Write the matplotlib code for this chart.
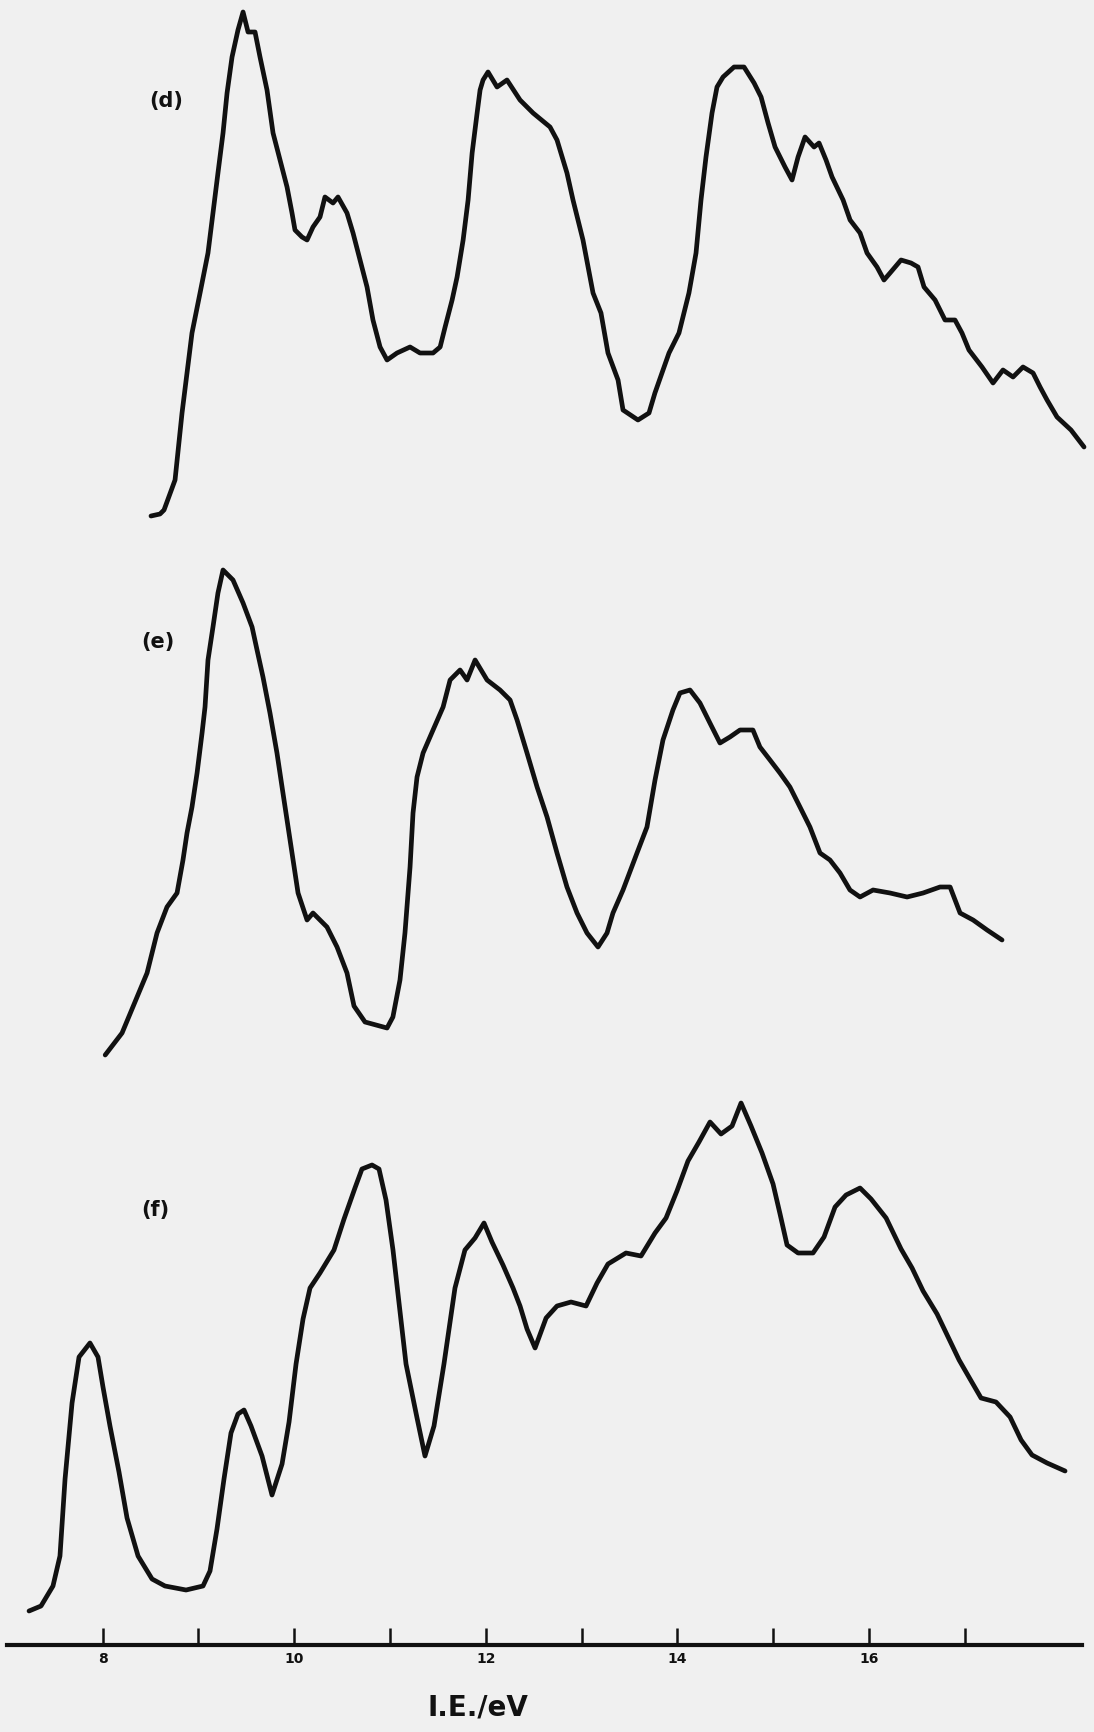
import matplotlib
matplotlib.use("Agg")
import matplotlib.pyplot as plt

# Spectre (d) : énergie (eV) et intensité (unités arbitraires)
ev_d = [8.505, 8.599, 8.641, 8.756, 8.829, 8.881, 8.933, 9.017, 9.100, 9.152,
        9.204, 9.257, 9.299, 9.351, 9.413, 9.466, 9.518, 9.591, 9.643, 9.716,
        9.779, 9.852, 9.925, 9.977, 10.008, 10.081, 10.134, 10.196, 10.269, 10.321,
        10.405, 10.457, 10.551, 10.614, 10.687, 10.760, 10.822, 10.896, 10.969, 11.073,
        11.209, 11.313, 11.449, 11.523, 11.575, 11.648, 11.700, 11.763, 11.815, 11.857,
        11.909, 11.940, 11.971, 12.023, 12.117, 12.221, 12.357, 12.493, 12.670, 12.743,
        12.847, 12.910, 13.014, 13.119, 13.202, 13.275, 13.380, 13.432, 13.588, 13.703,
        13.765, 13.912, 14.016, 14.120, 14.194, 14.246, 14.298, 14.361, 14.413, 14.476,
        14.591, 14.695, 14.800, 14.873, 14.946, 15.019, 15.123, 15.196, 15.259, 15.332,
        15.426, 15.478, 15.551, 15.614, 15.729, 15.802, 15.906, 15.979, 16.083, 16.156,
        16.219, 16.334, 16.438, 16.511, 16.574, 16.689, 16.793, 16.897, 16.970, 17.043,
        17.179, 17.294, 17.398, 17.503, 17.607, 17.712, 17.785, 17.858, 17.962, 18.108,
        18.244]
int_d = [0.9, 1.1, 1.5, 4.5, 11.2, 15.2, 19.2, 23.2, 27.2, 31.2,
         35.2, 39.2, 43.2, 46.8, 49.5, 51.3, 49.3, 49.3, 46.8, 43.5,
         39.2, 36.5, 33.8, 31.2, 29.5, 28.8, 28.5, 29.8, 30.8, 32.8,
         32.2, 32.8, 31.2, 29.2, 26.5, 23.8, 20.5, 17.8, 16.5, 17.2,
         17.8, 17.2, 17.2, 17.8, 19.8, 22.5, 24.8, 28.5, 32.5, 37.2,
         41.2, 43.5, 44.5, 45.3, 43.8, 44.5, 42.5, 41.2, 39.8, 38.5,
         35.2, 32.5, 28.5, 23.2, 21.2, 17.2, 14.5, 11.5, 10.5, 11.2,
         13.2, 17.2, 19.2, 23.2, 27.2, 32.5, 36.8, 41.2, 43.8, 44.8,
         45.8, 45.8, 44.2, 42.8, 40.2, 37.8, 35.8, 34.5, 36.8, 38.8,
         37.8, 38.2, 36.5, 34.8, 32.5, 30.5, 29.2, 27.2, 25.8, 24.5,
         25.2, 26.5, 26.2, 25.8, 23.8, 22.5, 20.5, 20.5, 19.2, 17.5,
         15.8, 14.2, 15.5, 14.8, 15.8, 15.2, 13.8, 12.5, 10.8, 9.5,
         7.8]

# Spectre (e)
ev_e = [8.027, 8.203, 8.464, 8.568, 8.672, 8.777, 8.839, 8.881, 8.933, 8.986,
        9.038, 9.069, 9.100, 9.152, 9.204, 9.257, 9.361, 9.466, 9.560, 9.612,
        9.674, 9.747, 9.820, 9.873, 9.925, 9.977, 10.040, 10.134, 10.196, 10.342,
        10.447, 10.551, 10.624, 10.739, 10.969, 11.030, 11.104, 11.156, 11.209, 11.240,
        11.282, 11.345, 11.449, 11.554, 11.627, 11.731, 11.804, 11.888, 12.013, 12.148,
        12.253, 12.326, 12.430, 12.535, 12.639, 12.743, 12.847, 12.952, 13.056, 13.171,
        13.265, 13.327, 13.432, 13.578, 13.682, 13.766, 13.849, 13.953, 14.026, 14.131,
        14.235, 14.339, 14.444, 14.548, 14.653, 14.788, 14.861, 14.966, 15.070, 15.174,
        15.279, 15.383, 15.488, 15.592, 15.697, 15.801, 15.906, 16.042, 16.219, 16.397,
        16.564, 16.741, 16.846, 16.950, 17.086, 17.232, 17.388]
int_e = [1.0, 3.2, 9.2, 13.2, 15.8, 17.2, 20.5, 23.2, 25.8, 29.2,
         33.2, 35.8, 40.5, 43.8, 47.2, 49.5, 48.5, 46.2, 43.8, 41.5,
         38.8, 35.2, 31.2, 27.8, 24.5, 21.2, 17.2, 14.5, 15.2, 13.8,
         11.8, 9.2, 5.9, 4.3, 3.7, 4.8, 8.5, 13.2, 19.8, 25.2,
         28.8, 31.2, 33.5, 35.8, 38.5, 39.5, 38.5, 40.5, 38.5, 37.5,
         36.5, 34.5, 31.2, 27.8, 24.8, 21.2, 17.8, 15.2, 13.2, 11.8,
         13.2, 15.2, 17.5, 21.2, 23.8, 28.5, 32.5, 35.5, 37.2, 37.5,
         36.2, 34.2, 32.2, 32.8, 33.5, 33.5, 31.8, 30.5, 29.2, 27.8,
         25.8, 23.8, 21.2, 20.5, 19.2, 17.5, 16.8, 17.5, 17.2, 16.8,
         17.2, 17.8, 17.8, 15.2, 14.5, 13.5, 12.5]

# Spectre (f)
ev_f = [7.232, 7.357, 7.482, 7.555, 7.608, 7.681, 7.754, 7.868, 7.952, 8.004,
        8.077, 8.171, 8.255, 8.370, 8.516, 8.651, 8.871, 9.048, 9.121, 9.194,
        9.267, 9.340, 9.413, 9.476, 9.549, 9.664, 9.768, 9.873, 9.946, 10.019,
        10.092, 10.165, 10.269, 10.415, 10.520, 10.634, 10.707, 10.812, 10.885, 10.958,
        11.031, 11.094, 11.167, 11.282, 11.365, 11.459, 11.563, 11.678, 11.782, 11.887,
        11.981, 12.064, 12.179, 12.284, 12.357, 12.430, 12.514, 12.629, 12.743, 12.889,
        13.046, 13.161, 13.275, 13.463, 13.620, 13.766, 13.881, 13.995, 14.110, 14.225,
        14.340, 14.455, 14.570, 14.664, 14.768, 14.883, 14.998, 15.071, 15.144, 15.259,
        15.415, 15.530, 15.645, 15.760, 15.906, 16.021, 16.178, 16.334, 16.449, 16.564,
        16.710, 16.825, 16.940, 17.054, 17.169, 17.325, 17.472, 17.587, 17.701, 17.858,
        18.046]
int_f = [0.4, 0.9, 2.9, 5.9, 13.6, 21.2, 25.8, 27.2, 25.8, 22.8,
         18.9, 14.3, 9.7, 5.9, 3.6, 2.9, 2.5, 2.9, 4.4, 8.6,
         13.6, 18.2, 20.1, 20.5, 18.9, 15.9, 12.0, 15.1, 19.3, 25.1,
         29.6, 32.7, 34.2, 36.5, 39.6, 42.7, 44.6, 45.0, 44.6, 41.5,
         36.5, 31.2, 25.1, 19.7, 15.9, 18.9, 25.1, 32.7, 36.5, 37.7,
         39.2, 37.3, 35.0, 32.7, 30.9, 28.6, 26.7, 29.7, 30.9, 31.3,
         30.9, 33.2, 35.1, 36.2, 35.9, 38.2, 39.7, 42.4, 45.4, 47.3,
         49.3, 48.1, 48.9, 51.2, 48.9, 46.2, 43.1, 40.1, 37.0, 36.2,
         36.2, 37.8, 40.8, 42.0, 42.7, 41.6, 39.7, 36.6, 34.7, 32.4,
         30.1, 27.8, 25.5, 23.6, 21.7, 21.3, 19.8, 17.5, 16.0, 15.2,
         14.4]

spectres = [("(d)", ev_d, int_d), ("(e)", ev_e, int_e), ("(f)", ev_f, int_f)]
decalages = [112, 58, 3]
pos_labels = [(8.66, 154.4), (8.58, 100.3), (8.55, 43.5)]

ticks = list(range(8, 18))
tick_labels = [str(t) if t % 2 == 0 else "" for t in ticks]

police = ["Liberation Sans Narrow", "DejaVu Sans"]
fond = "#f0f0f0"
encre = "#111111"

fig = plt.figure(figsize=(10.94, 17.32), dpi=100, facecolor=fond)
ax = fig.add_axes([0, 1 - 1645 / 1732, 1, 1645 / 1732])
ax.set_facecolor(fond)

for (nom, ev, inten), dec, (lx, ly) in zip(spectres, decalages, pos_labels):
    ax.plot(ev, [v + dec for v in inten], color=encre, lw=3.4,
            solid_joinstyle="round", solid_capstyle="round")
    ax.text(lx, ly, nom, fontsize=15, fontweight="bold", family=police,
            color=encre, ha="center", va="center")

ax.set_xlim(6.929, 18.348)
ax.set_ylim(0, 164.5)

for s in ["top", "left", "right"]:
    ax.spines[s].set_visible(False)
ax.spines["bottom"].set_linewidth(3)
ax.spines["bottom"].set_color(encre)
ax.spines["bottom"].set_bounds(7.0, 18.22)
ax.set_yticks([])
ax.set_xticks(ticks)
ax.set_xticklabels(tick_labels, fontsize=10, fontweight="bold", family=police,
                   color=encre)
ax.tick_params(axis="x", direction="in", length=12, width=1.8, color=encre, pad=5)

fig.text(478 / 1094, 1 - 1707 / 1732, "I.E./eV", fontsize=20, fontweight="bold",
         family=police, color=encre, ha="center", va="center")

fig.savefig("out.png", dpi=100, facecolor=fond)
